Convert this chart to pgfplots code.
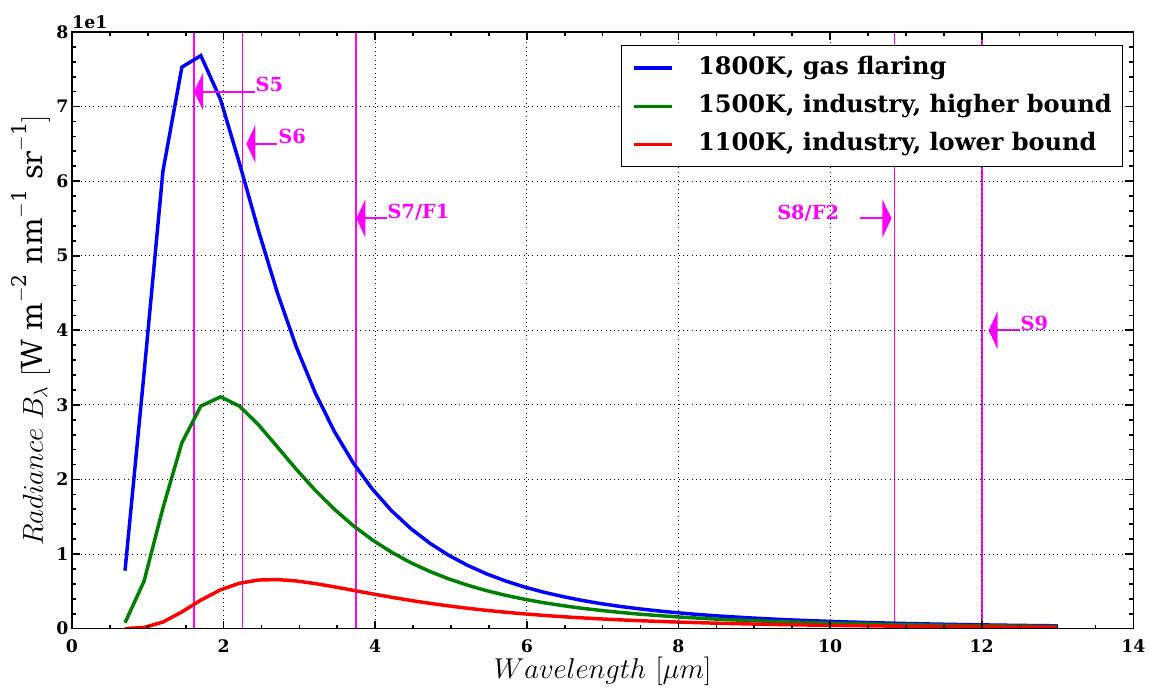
\documentclass[border=0pt]{standalone}
\usepackage{fontspec}
\setmainfont{DejaVu Serif}
\usepackage{pgfplots}
\usepackage{pgfplotstable}
\pgfplotsset{compat=1.18}
\usetikzlibrary{arrows.meta}

\definecolor{cblue}{rgb}{0,0,1}
\definecolor{cgreen}{rgb}{0,0.5,0}
\definecolor{cred}{rgb}{1,0,0}
\definecolor{cmag}{rgb}{1,0,1}

% Spectral radiance (units of 10 W m^-2 nm^-1 sr^-1) against wavelength in micrometres
\pgfplotstableread{
lam    b1800   b1500   b1100
0.70   0.778   0.079   0.0005
0.95   3.414   0.634   0.0161
1.20   6.134   1.617   0.0884
1.45   7.529   2.493   0.2246
1.70   7.683   2.984   0.3823
1.96   7.094   3.108   0.5211
2.21   6.237   2.983   0.6091
2.46   5.337   2.734   0.6519
2.71   4.502   2.436   0.6582
2.96   3.775   2.135   0.6392
3.21   3.159   1.854   0.6042
3.46   2.646   1.602   0.5608
3.71   2.223   1.381   0.5139
3.96   1.874   1.191   0.4669
4.21   1.587   1.028   0.4218
4.47   1.341   0.884   0.3780
4.72   1.146   0.767   0.3394
4.97   0.983   0.667   0.3045
5.22   0.848   0.582   0.2731
5.47   0.734   0.509   0.2450
5.72   0.639   0.447   0.2200
5.97   0.558   0.394   0.1977
6.22   0.489   0.348   0.1779
6.47   0.431   0.309   0.1604
6.72   0.380   0.274   0.1448
6.98   0.335   0.244   0.1304
7.23   0.298   0.218   0.1181
7.48   0.266   0.195   0.1071
7.73   0.238   0.176   0.0974
7.98   0.214   0.158   0.0887
8.23   0.192   0.143   0.0809
8.48   0.173   0.129   0.0739
8.73   0.157   0.117   0.0676
8.98   0.142   0.107   0.0620
9.23   0.129   0.097   0.0569
9.49   0.117   0.0885  0.0521
9.74   0.107   0.0810  0.0480
9.99   0.0977  0.0743  0.0443
10.24  0.0894  0.0682  0.0409
10.49  0.0821  0.0627  0.0378
10.74  0.0754  0.0578  0.0350
10.99  0.0695  0.0533  0.0325
11.24  0.0641  0.0493  0.0302
11.49  0.0592  0.0456  0.0280
11.74  0.0547  0.0423  0.0261
12.00  0.0506  0.0391  0.0242
12.25  0.0469  0.0363  0.0226
12.50  0.0436  0.0338  0.0211
12.75  0.0406  0.0315  0.0198
13.00  0.0378  0.0294  0.0185
}\radiance

\begin{document}
\begin{tikzpicture}
\begin{axis}[
  name=ax,
  scale only axis,
  width=764.64bp, height=429.84bp,
  xmin=0, xmax=14, ymin=0, ymax=8,
  xtick={0,2,...,14}, ytick={0,1,...,8},
  minor x tick num=3, minor y tick num=4,
  tick align=inside,
  major tick length=5.8bp, minor tick length=2.9bp,
  every tick/.append style={black, line width=1.2bp},
  axis line style={black, line width=1.1bp},
  grid=major,
  major grid style={black, line width=0.7bp, dash pattern=on 0.7bp off 2.4bp},
  axis on top,
  /pgf/number format/assume math mode=true,
  ticklabel style={font=\fontsize{12.5}{14}\selectfont\bfseries},
  xticklabel shift=4.5bp,
  yticklabel shift=-1bp,
  xlabel={$Wavelength\ [\mu m]$},
  ylabel={$Radiance\ B_\lambda\ [\mathrm{W\ m^{-2}\ nm^{-1}\ sr^{-1}}]$},
  label style={font=\fontsize{21}{23}\selectfont},
  xlabel style={at={(axis description cs:0.5,-0.0843)}, anchor=base},
  ylabel style={at={(axis description cs:-0.0273,0.5)}, anchor=base},
  legend style={at={(0.9897,0.9774)}, anchor=north east,
    draw=black, line width=0.6bp, fill=white,
    font=\fontsize{17.4}{20}\selectfont\bfseries,
    inner xsep=7.5bp, inner ysep=7.5bp,
    column sep=18bp, row sep=10.5bp,
    nodes={inner sep=0pt, text height=13bp, text depth=4bp}},
  legend cell align=left,
  legend image code/.code={\draw[#1] (0bp,0bp) -- (27.3bp,0bp);},
]
% band positions
\addplot[cmag, line width=1.2bp, forget plot] coordinates {(1.61,0) (1.61,8)};
\addplot[cmag, line width=1.2bp, forget plot] coordinates {(2.25,0) (2.25,8)};
\addplot[cmag, line width=1.3bp, forget plot] coordinates {(3.75,0) (3.75,8)};
\addplot[cmag, line width=1.2bp, forget plot] coordinates {(10.85,0) (10.85,8)};
\addplot[cmag, line width=1.2bp, forget plot] coordinates {(12.0,0) (12.0,8)};

\addplot[cblue, line width=2.5bp] table[x=lam, y=b1800] {\radiance};
\addlegendentry{1800K, gas flaring}
\addplot[cgreen, line width=2.5bp] table[x=lam, y=b1500] {\radiance};
\addlegendentry{1500K, industry, higher bound}
\addplot[cred, line width=2.5bp] table[x=lam, y=b1100] {\radiance};
\addlegendentry{1100K, industry, lower bound}

% band labels
\begin{scope}[cmag, line width=1.4bp, every node/.style={anchor=base west, inner sep=0pt, font=\fontsize{14}{16}\selectfont\bfseries}]
\draw[-{Triangle[length=6.5bp,width=27bp]}] (axis cs:2.41,7.2) -- (axis cs:1.61,7.2);
\node at (axis cs:2.41,7.2) {S5};
\draw[-{Triangle[length=6.5bp,width=27bp]}] (axis cs:2.71,6.5) -- (axis cs:2.30,6.5);
\node at (axis cs:2.71,6.5) {S6};
\draw[-{Triangle[length=6.5bp,width=27bp]}] (axis cs:4.15,5.5) -- (axis cs:3.75,5.5);
\node at (axis cs:4.15,5.5) {S7/F1};
\draw[-{Triangle[length=6.5bp,width=27bp]}] (axis cs:10.39,5.5) -- (axis cs:10.81,5.5);
\node at (axis cs:9.29,5.48) {S8/F2};
\draw[-{Triangle[length=6.5bp,width=27bp]}] (axis cs:12.5,4.0) -- (axis cs:12.09,4.0);
\node at (axis cs:12.5,4.0) {S9};
\end{scope}
\end{axis}
\node[anchor=south west, inner sep=0pt, font=\fontsize{12.5}{14}\selectfont\bfseries] at ([yshift=2.2bp]ax.north west) {1e1};
\path (ax.south west) ++(-51.84bp,-44.64bp) rectangle ++(828bp,497.52bp);
\end{tikzpicture}
\end{document}
